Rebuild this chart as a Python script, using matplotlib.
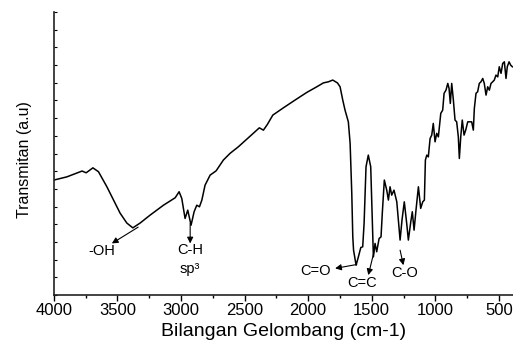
import matplotlib
matplotlib.use("Agg")
import matplotlib.pyplot as plt
from matplotlib.ticker import MultipleLocator, NullFormatter

plt.rcParams['font.family'] = ['Liberation Sans', 'DejaVu Sans']

# FTIR spectrum: wavenumber (cm-1) and transmittance (a.u.)
wavenumber = [4000, 3898, 3793, 3778, 3746, 3693, 3649, 3583, 3531, 3479, 3426, 3379,
              3322, 3243, 3138, 3046, 3015, 2994, 2968, 2947, 2921, 2897, 2876, 2855,
              2836, 2811, 2771, 2724, 2667, 2614, 2549, 2483, 2384, 2352, 2321, 2278,
              2195, 2103, 2011, 1932, 1880, 1841, 1807, 1770, 1749, 1728, 1710, 1684,
              1670, 1657, 1649, 1643, 1623, 1605, 1586, 1571, 1560, 1545, 1527, 1508,
              1495, 1487, 1474, 1461, 1442, 1427, 1417, 1401, 1382, 1369, 1356, 1343,
              1325, 1303, 1291, 1277, 1262, 1244, 1225, 1212, 1193, 1181, 1167, 1152,
              1133, 1115, 1099, 1086, 1078, 1067, 1055, 1041, 1028, 1016, 1002, 989,
              976, 957, 942, 931, 916, 902, 892, 882, 871, 858, 845, 832, 819, 811,
              800, 788, 774, 761, 745, 727, 714, 701, 693, 680, 667, 654, 641, 627,
              615, 601, 588, 575, 562, 549, 536, 523, 509, 497, 483, 470, 457, 444,
              434, 420, 407, 394]
transmitan = [6.50, 6.68, 6.97, 7.01, 6.91, 7.19, 6.97, 6.12, 5.37, 4.63, 4.07, 3.80,
              4.07, 4.52, 5.08, 5.50, 5.84, 5.46, 4.33, 4.80, 3.95, 4.71, 5.08, 4.99,
              5.37, 6.21, 6.78, 7.02, 7.63, 8.01, 8.38, 8.81, 9.45, 9.32, 9.64, 10.17,
              10.58, 11.02, 11.45, 11.77, 11.99, 12.05, 12.15, 11.99, 11.77, 11.02, 10.45, 9.79,
              8.57, 5.75, 3.29, 2.54, 1.69, 2.16, 2.69, 2.73, 4.07, 7.25, 7.91, 7.25,
              4.07, 2.16, 2.92, 2.45, 3.20, 3.29, 4.62, 6.50, 5.93, 5.37, 6.12, 5.65,
              5.93, 5.27, 4.24, 3.11, 4.24, 5.27, 4.05, 3.11, 4.14, 4.71, 3.67, 4.80,
              6.12, 4.90, 5.27, 5.37, 7.63, 7.91, 7.81, 8.85, 9.04, 9.70, 8.66, 9.14,
              8.94, 10.27, 10.45, 11.40, 11.58, 11.96, 11.68, 10.83, 11.96, 11.02, 9.89, 9.79, 8.94, 7.72,
              8.94, 9.89, 9.04, 9.32, 9.79, 9.79, 9.79, 9.32, 10.55, 11.40, 11.49, 11.96, 12.05, 12.24,
              11.96, 11.30, 11.77, 11.58, 11.96, 12.05, 12.15, 12.43, 12.33, 12.90, 12.53, 13.09, 13.18, 12.24,
              12.90, 13.18, 12.99, 12.90]

# peak labels: text, text position, arrow tail (on curve), arrow head
labels = ["-OH", "C-H\nsp³", "C=O", "C=C", "C-O"]
text_pos = [(3623, 2.50), (2928, 2.02), (1946, 1.36), (1578, 0.66), (1238, 1.26)]
arrow_tail = [(3337, 3.84), (2928, 4.05), (1618, 1.73), (1482, 2.45), (1277, 2.54)]
arrow_head = [(3544, 2.92), (2928, 2.92), (1788, 1.51), (1527, 1.13), (1251, 1.69)]

fig = plt.figure(figsize=(5.13, 3.40), dpi=100)
ax = fig.add_axes([0.105, 0.132, 0.895, 0.833])

ax.plot(wavenumber, transmitan, color='black', lw=1.1, solid_joinstyle='round')

for lab, tp, tail, head in zip(labels, text_pos, arrow_tail, arrow_head):
    ax.annotate("", xy=head, xytext=tail,
                arrowprops=dict(arrowstyle='-|>', color='black', lw=0.8,
                                mutation_scale=9, shrinkA=0, shrinkB=0))
    ax.text(tp[0], tp[1], lab, ha='center', va='center', fontsize=10.5,
            linespacing=1.45)

ax.set_xlim(4000, 389)
ax.set_ylim(0, 16)
ax.xaxis.set_major_locator(MultipleLocator(500))
ax.xaxis.set_minor_locator(MultipleLocator(250))
ax.yaxis.set_major_locator(MultipleLocator(1))
ax.yaxis.set_major_formatter(NullFormatter())
ax.tick_params(axis='x', which='major', direction='out', length=4, width=1,
               labelsize=12, pad=2)
ax.tick_params(axis='x', which='minor', direction='out', length=2.5, width=1)
ax.tick_params(axis='y', which='major', direction='in', length=2, width=0.8)

for side in ['top', 'right']:
    ax.spines[side].set_visible(False)
for side in ['left', 'bottom']:
    ax.spines[side].set_linewidth(1.2)
    ax.spines[side].set_color('#222222')

ax.set_xlabel('Bilangan Gelombang (cm-1)', fontsize=14, labelpad=3)
ax.set_ylabel('Transmitan (a.u)', fontsize=11.5)
ax.yaxis.set_label_coords(-0.047, 0.48)

fig.savefig('out.png', dpi=100)
